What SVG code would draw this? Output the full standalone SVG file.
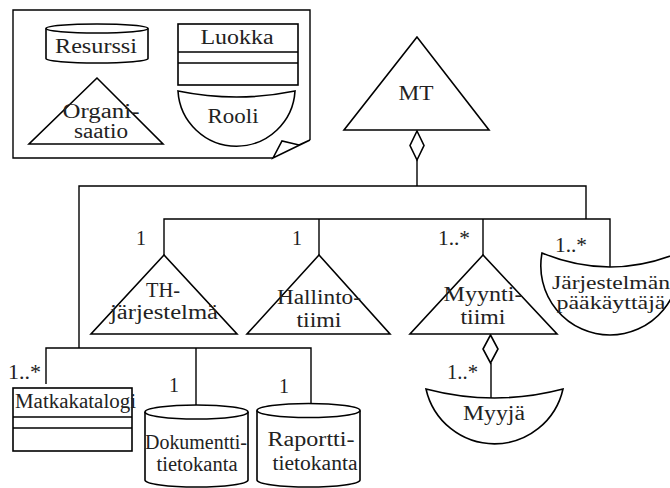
<svg xmlns="http://www.w3.org/2000/svg" width="670" height="488" viewBox="0 0 670 488">
  <style>
    .shape { fill: #fff; stroke: #000; stroke-width: 1.6; stroke-linejoin: miter; }
    .line { fill: none; stroke: #000; stroke-width: 1.4; }
    text { font-family: "Liberation Serif", "Times New Roman", serif; font-size: 20px; fill: #222; }
    .mid { text-anchor: middle; }
    .sm { font-size: 18px; }
  </style>

  <rect width="670" height="488" fill="#fff"/>

  <!-- Legend sheet with a curled corner -->
  <g id="legend">
    <path class="line" d="M273,158 L13,158 L13,10 L310,10 L310,140"/>
    <path class="shape" d="M273,158 L282,141 L299,145 L310,140 Z"/>

    <g id="legend-resurssi">
      <path class="shape" d="M46,28.5 L46,58.5 A51,4.5 0 0 0 148,58.5 L148,28.5"/>
      <ellipse class="shape" cx="97" cy="28.5" rx="51" ry="4.5"/>
      <text class="mid" x="96" y="53" textLength="82" lengthAdjust="spacingAndGlyphs">Resurssi</text>
    </g>

    <g id="legend-luokka">
      <rect class="shape" x="178" y="24" width="120" height="61"/>
      <line class="line" x1="178" y1="52" x2="298" y2="52"/>
      <line class="line" x1="178" y1="63" x2="298" y2="63"/>
      <text class="mid" x="237" y="44" textLength="73" lengthAdjust="spacingAndGlyphs">Luokka</text>
    </g>

    <g id="legend-organisaatio">
      <polygon class="shape" points="97,78 29,144 163,144"/>
      <text class="mid" x="101" y="118" textLength="77" lengthAdjust="spacingAndGlyphs">Organi-</text>
      <text class="mid" x="101" y="138" textLength="54" lengthAdjust="spacingAndGlyphs">saatio</text>
    </g>

    <g id="legend-rooli">
      <path class="shape" d="M178,91 Q236.5,103 295,91 A58.6,58.6 0 0 1 178,91 Z"/>
      <text class="mid" x="233" y="123" textLength="51" lengthAdjust="spacingAndGlyphs">Rooli</text>
    </g>
  </g>

  <!-- Connectors -->
  <g id="connectors">
    <!-- MT aggregation -->
    <polygon class="shape" points="417,131 424,145.5 417,160 410,145.5"/>
    <polyline class="line" points="417,160 417,186"/>
    <polyline class="line" points="79,348 79,186 586,186 586,219"/>
    <polyline class="line" points="164,255 164,219 610,219 610,267"/>
    <line class="line" x1="319" y1="219" x2="319" y2="255"/>
    <line class="line" x1="483" y1="219" x2="483" y2="255"/>
    <!-- lower branch -->
    <polyline class="line" points="46,384 46,348 311,348 311,403"/>
    <line class="line" x1="196" y1="348" x2="196" y2="405"/>
    <!-- Myyntitiimi aggregation -->
    <polygon class="shape" points="490.5,335 498,349 490.5,363 483,349"/>
    <line class="line" x1="491" y1="363" x2="491" y2="398"/>

    <!-- multiplicities -->
    <text class="mid" x="141" y="245">1</text>
    <text class="mid" x="297" y="245">1</text>
    <text x="438" y="245" textLength="32" lengthAdjust="spacingAndGlyphs">1..*</text>
    <text x="555" y="252" textLength="32" lengthAdjust="spacingAndGlyphs">1..*</text>
    <text x="8" y="379" textLength="33" lengthAdjust="spacingAndGlyphs">1..*</text>
    <text class="mid" x="174" y="392">1</text>
    <text class="mid" x="284" y="393">1</text>
    <text x="447" y="379" textLength="31" lengthAdjust="spacingAndGlyphs">1..*</text>
  </g>

  <!-- Nodes -->
  <g id="mt">
    <polygon class="shape" points="417,37 344,130 489,130"/>
    <text class="mid" x="416" y="100" textLength="35" lengthAdjust="spacingAndGlyphs">MT</text>
  </g>

  <g id="th-jarjestelma">
    <polygon class="shape" points="164,255 91,334 237,334"/>
    <text class="mid" x="163" y="297" textLength="34" lengthAdjust="spacingAndGlyphs">TH-</text>
    <text class="mid" x="164" y="319" textLength="108" lengthAdjust="spacingAndGlyphs">järjestelmä</text>
  </g>

  <g id="hallintotiimi">
    <polygon class="shape" points="319,255 247,334 390,334"/>
    <text class="mid" x="319" y="304" textLength="84" lengthAdjust="spacingAndGlyphs">Hallinto-</text>
    <text class="mid" x="319" y="327" textLength="45" lengthAdjust="spacingAndGlyphs">tiimi</text>
  </g>

  <g id="myyntitiimi">
    <polygon class="shape" points="483,255 410,334 557,334"/>
    <text class="mid" x="483" y="301" textLength="79" lengthAdjust="spacingAndGlyphs">Myynti-</text>
    <text class="mid" x="483" y="324" textLength="45" lengthAdjust="spacingAndGlyphs">tiimi</text>
  </g>

  <g id="jarjestelman-paakayttaja">
    <path class="shape" d="M542,253 Q610,281 678,253 A69.2,69.2 0 1 1 542,253 Z"/>
    <text class="mid sm" x="611" y="289" textLength="118" lengthAdjust="spacingAndGlyphs">Järjestelmän</text>
    <text class="mid sm" x="611" y="309" textLength="109" lengthAdjust="spacingAndGlyphs">pääkäyttäjä</text>
  </g>

  <g id="myyja">
    <path class="shape" d="M426,389 Q494.5,407 563,389 A70.2,70.2 0 0 1 426,389 Z"/>
    <text class="mid" x="494" y="420" textLength="62" lengthAdjust="spacingAndGlyphs">Myyjä</text>
  </g>

  <g id="matkakatalogi">
    <rect class="shape" x="13" y="388" width="119" height="63"/>
    <line class="line" x1="13" y1="417" x2="132" y2="417"/>
    <line class="line" x1="13" y1="428" x2="132" y2="428"/>
    <text x="15" y="408" textLength="121" lengthAdjust="spacingAndGlyphs">Matkakatalogi</text>
  </g>

  <g id="dokumenttitietokanta">
    <path class="shape" d="M145,412 L145,480 A51.5,7 0 0 0 248,480 L248,412"/>
    <ellipse class="shape" cx="196.5" cy="412" rx="51.5" ry="7"/>
    <text class="mid" x="196" y="449" textLength="102" lengthAdjust="spacingAndGlyphs">Dokumentti-</text>
    <text class="mid" x="197" y="471" textLength="81" lengthAdjust="spacingAndGlyphs">tietokanta</text>
  </g>

  <g id="raporttitietokanta">
    <path class="shape" d="M257,410.5 L257,480 A51.5,7 0 0 0 360,480 L360,410.5"/>
    <ellipse class="shape" cx="308.5" cy="410.5" rx="51.5" ry="7"/>
    <text class="mid" x="311" y="446" textLength="87" lengthAdjust="spacingAndGlyphs">Raportti-</text>
    <text class="mid" x="315" y="470" textLength="85" lengthAdjust="spacingAndGlyphs">tietokanta</text>
  </g>
</svg>
